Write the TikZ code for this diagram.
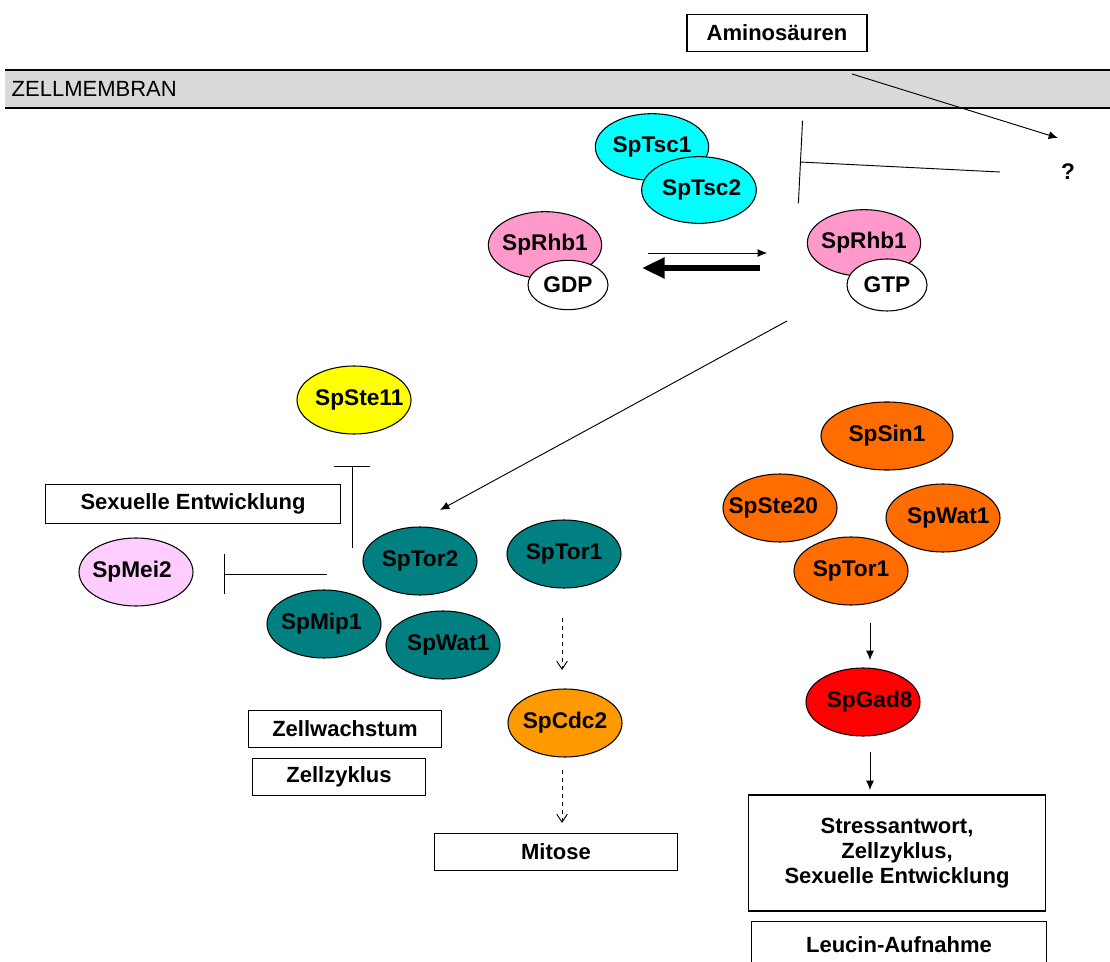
\documentclass[tikz,border=0pt]{standalone}
\usepackage{fontspec}
\setmainfont{Liberation Sans}
\usepackage{tikz}
\usepackage{xcolor}
\usetikzlibrary{shapes.geometric,arrows.meta}

\definecolor{tsccyan}{RGB}{0,255,255}
\definecolor{rhbpink}{RGB}{255,153,204}
\definecolor{meipink}{RGB}{255,204,255}
\definecolor{torteal}{RGB}{0,128,128}
\definecolor{cdcorange}{RGB}{255,153,0}
\definecolor{sinorange}{RGB}{255,108,0}
\definecolor{gadred}{RGB}{255,0,0}
\definecolor{steyellow}{RGB}{255,255,0}
\definecolor{membgray}{RGB}{217,217,217}

\tikzset{
  prot/.style={ellipse, draw, line width=0.8pt, inner sep=-12pt,
    minimum width=85.5pt, minimum height=51pt,
    font=\fontsize{17}{19}\selectfont\bfseries},
  lbl/.style={draw, line width=1pt, inner sep=0pt, minimum height=28pt,
    font=\fontsize{16.5}{19}\selectfont\bfseries, align=center},
  act/.style={-{Latex[length=7pt,width=6pt]}, line width=0.7pt},
  dact/.style={-{Straight Barb[length=6pt,width=8pt]}, dashed, line width=0.7pt},
  inh/.style={-{Bar[width=#1]}, line width=0.7pt},
}

\begin{document}
\begin{tikzpicture}[x=0.75pt,y=-0.75pt]
\useasboundingbox (0,0) rectangle (1110,962);

% membrane
\fill[membgray] (5,70) rectangle (1110,108);
\draw[line width=1.5pt] (5,70) -- (1110,70);
\draw[line width=1.5pt] (5,108) -- (1110,108);
\node[anchor=west, font=\fontsize{16.5}{19}\selectfont] (memb) at (7,89) {ZELLMEMBRAN};

% amino acids
\node[lbl, minimum width=135pt] (amino) at (777,33) {Aminos\"auren};
\node[font=\fontsize{17}{19}\selectfont\bfseries] (unk) at (1068,172) {?};
\coordinate (amino-out) at (852,74);
\coordinate (unk-in) at (1058,138);
\coordinate (unk-out) at (1000,172);
\coordinate (tsc-bar) at (800,162);

% Tsc complex and Rhb1
\node[prot, fill=tsccyan, minimum width=85pt, minimum height=50pt] (Tsc1) at (652,147) {SpTsc1};
\node[prot, fill=tsccyan, minimum width=86pt, minimum height=50pt] (Tsc2) at (699,190) {\hspace*{4pt}SpTsc2};

\node[prot, fill=rhbpink, minimum width=85pt, minimum height=50pt] (RhbD) at (545,245) {SpRhb1};
\node[prot, fill=white, minimum width=60pt, minimum height=37pt] (GDP) at (568,285) {GDP};
\node[prot, fill=rhbpink, minimum width=85pt, minimum height=50pt] (RhbT) at (864,243) {SpRhb1};
\node[prot, fill=white, minimum width=60pt, minimum height=39pt] (GTP) at (887,285) {GTP};

\coordinate (fw-a) at (648,253);
\coordinate (fw-b) at (767,253);
\coordinate (bw-a) at (760,268);
\coordinate (bw-b) at (642,268);
\coordinate (rhb-out) at (787,321);
\coordinate (tor-in) at (440,510);

% left branch
\node[prot, fill=steyellow] (Ste11) at (354,400) {\hspace*{8pt}SpSte11};
\node[lbl, minimum width=221pt, minimum height=29pt] (sex) at (193,504) {Sexuelle Entwicklung};
\node[prot, fill=meipink] (Mei2) at (136,572) {SpMei2\hspace*{6pt}};
\coordinate (ste-bar) at (352,466);
\coordinate (ste-from) at (352,548);
\coordinate (mei-bar) at (224,574);
\coordinate (mei-from) at (327,574);

% TORC1
\node[prot, fill=torteal] (Tor2) at (420,561) {SpTor2};
\node[prot, fill=torteal] (Tor1) at (564,554) {SpTor1};
\node[prot, fill=torteal] (Mip1) at (324,624) {SpMip1\hspace*{4pt}};
\node[prot, fill=torteal] (Wat1) at (443,645) {\hspace*{8pt}SpWat1};
\node[prot, fill=cdcorange] (Cdc2) at (565,723) {SpCdc2};
\node[lbl, minimum width=145pt] (growth) at (345,729) {Zellwachstum};
\node[lbl, minimum width=130pt] (cycle) at (339,777) {Zellzyklus};
\node[lbl, minimum width=182pt] (mitose) at (556,852) {Mitose};
\coordinate (tor-a) at (562,618);
\coordinate (tor-b) at (562,670);
\coordinate (cdc-a) at (562,770);
\coordinate (cdc-b) at (562,823);

% TORC2
\node[prot, fill=sinorange, minimum width=99pt] (Sin1) at (887,436) {SpSin1};
\node[prot, fill=sinorange] (Ste20) at (780,508) {SpSte20\hspace*{10pt}};
\node[prot, fill=sinorange] (Wat1b) at (943,518) {\hspace*{8pt}SpWat1};
\node[prot, fill=sinorange] (Tor1b) at (851,571) {SpTor1};
\node[prot, fill=gadred] (Gad8) at (863,702) {\hspace*{10pt}SpGad8};
\node[lbl, minimum width=223pt, minimum height=87pt] (stress) at (897,853)
  {Stressantwort,\\Zellzyklus,\\Sexuelle Entwicklung};
\node[lbl, minimum width=221pt, minimum height=35pt, anchor=north] (leu) at (899,921) {Leucin-Aufnahme};
\coordinate (tor1b-a) at (870,623);
\coordinate (tor1b-b) at (870,660);
\coordinate (gad-a) at (870,752);
\coordinate (gad-b) at (870,790);

% connectors
\path[act] (amino-out) edge (unk-in);
\path[inh=62pt] (unk-out) edge (tsc-bar);
\path[act] (fw-a) edge (fw-b);
\path[-{Triangle[length=17pt,width=15pt]}, line width=5pt] (bw-a) edge (bw-b);
\path[act] (rhb-out) edge (tor-in);
\path[inh=27pt] (ste-from) edge (ste-bar);
\path[inh=30pt] (mei-from) edge (mei-bar);
\path[dact] (tor-a) edge (tor-b);
\path[dact] (cdc-a) edge (cdc-b);
\path[act] (tor1b-a) edge (tor1b-b);
\path[act] (gad-a) edge (gad-b);
\end{tikzpicture}
\end{document}
